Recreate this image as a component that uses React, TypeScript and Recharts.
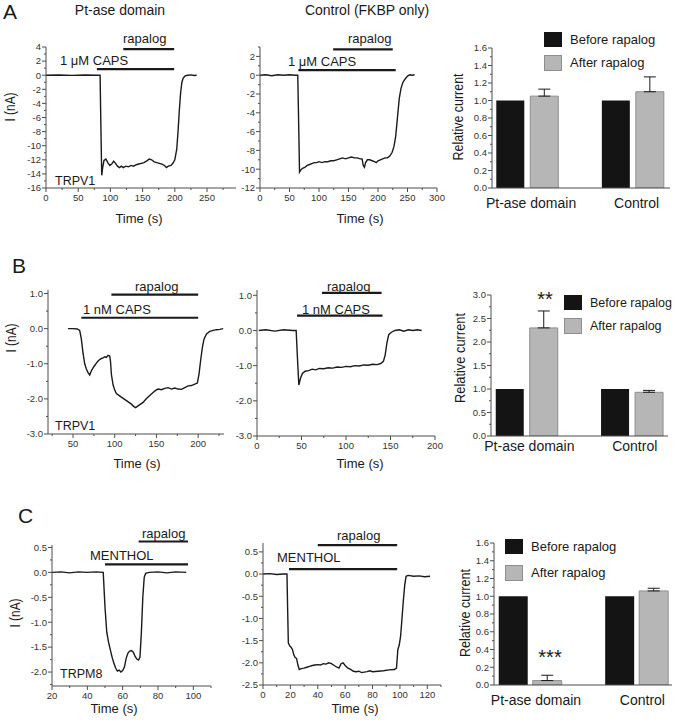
import React from 'react'
import { LineChart, Line, XAxis, YAxis, ReferenceLine, BarChart, Bar, ErrorBar } from 'recharts'

const FONT = '"Liberation Sans", Arial, Helvetica, sans-serif'
const INK = '#1a1a1a'
const AXIS = '#4d4d4d'
const TICK = '#333'

// ---- row A: TRPV1, 1 µM capsaicin
const a1Time = [0, 20, 40, 60, 80, 84, 85, 86.5, 88, 90, 93, 96, 99, 102, 105, 108, 111, 114, 117, 120, 124, 128, 132, 136, 140, 144, 148, 152, 156, 160, 164, 168, 172, 176, 180, 184, 187, 190, 194, 197, 200, 203, 205, 207, 209, 211, 213, 216, 220, 225, 230, 234]
const a1Current = [0, 0.03, -0.03, 0.02, 0, 0, -6, -14.2, -13.1, -12.1, -11.9, -12.4, -12.8, -12.6, -12.2, -12.5, -12.9, -13.1, -12.9, -13.1, -12.9, -13.0, -12.8, -12.9, -12.7, -12.6, -12.5, -12.4, -12.2, -11.9, -12.0, -12.3, -12.4, -12.5, -12.6, -12.8, -13.1, -12.9, -12.8, -12.5, -12.0, -10.5, -8, -5, -2.5, -1, -0.4, -0.1, 0, 0.05, -0.05, 0]
const a1Caps = [79, 199]
const a1Rapalog = [120, 199]

const a2Time = [0, 10, 20, 30, 40, 50, 60, 64, 65.5, 67, 69, 72, 76, 80, 84, 88, 92, 96, 100, 105, 110, 115, 120, 125, 130, 135, 140, 145, 150, 155, 160, 165, 170, 173, 175, 177, 179, 182, 186, 190, 194, 197, 200, 204, 208, 212, 216, 220, 224, 227, 230, 233, 236, 239, 242, 246, 250, 254, 258, 262]
const a2Current = [0, 0.05, -0.05, 0.05, 0, 0.05, 0, 0, -5, -10.3, -10.1, -9.9, -9.8, -9.6, -9.5, -9.4, -9.3, -9.3, -9.2, -9.3, -9.2, -9.2, -9.1, -9.1, -9.0, -8.9, -8.8, -8.9, -8.8, -8.7, -8.8, -8.8, -8.9, -8.9, -9.6, -9.8, -9.3, -9.0, -9.0, -9.1, -9.2, -9.3, -9.1, -9.0, -8.9, -8.8, -8.8, -8.6, -8.2, -7.6, -6.5, -4.5, -2.5, -1.4, -0.8, -0.4, -0.1, 0.05, 0, 0.05]
const a2Caps = [65, 230]
const a2Rapalog = [124, 225]

// ---- row B: TRPV1, 1 nM capsaicin
const b1Time = [44, 50, 55, 58, 60, 62, 64, 66, 68, 70, 72, 74, 76, 78, 80, 82, 84, 86, 88, 90, 92, 94, 95, 96, 98, 100, 102, 105, 108, 111, 114, 117, 120, 123, 125, 128, 131, 134, 137, 140, 143, 146, 149, 152, 156, 160, 164, 168, 172, 176, 180, 184, 188, 192, 196, 199, 201, 203, 205, 207, 210, 214, 218, 222, 226, 230]
const b1Current = [0, 0, -0.01, -0.05, -0.3, -0.7, -1.0, -1.15, -1.25, -1.32, -1.2, -1.12, -1.05, -0.98, -0.92, -0.88, -0.85, -0.83, -0.8, -0.82, -0.76, -0.78, -0.95, -1.3, -1.6, -1.75, -1.85, -1.9, -1.95, -2.0, -2.05, -2.1, -2.15, -2.22, -2.25, -2.2, -2.15, -2.1, -2.02, -1.95, -1.88, -1.82, -1.76, -1.72, -1.74, -1.7, -1.68, -1.72, -1.69, -1.72, -1.73, -1.68, -1.63, -1.62, -1.58, -1.55, -1.3, -0.9, -0.55, -0.3, -0.15, -0.08, -0.05, -0.03, -0.02, 0]
const b1Caps = [60, 200]
const b1Rapalog = [96, 200]

const b2Time = [2, 10, 20, 30, 40, 44, 45.5, 47, 49, 51, 54, 58, 62, 66, 70, 75, 80, 85, 90, 95, 100, 105, 110, 115, 120, 125, 130, 135, 139, 142, 144, 146, 148, 151, 155, 160, 165, 170, 175, 180, 185]
const b2Current = [0, 0.02, -0.02, 0.02, 0, 0, -0.8, -1.55, -1.35, -1.22, -1.16, -1.14, -1.1, -1.12, -1.08, -1.09, -1.06, -1.07, -1.04, -1.05, -1.02, -1.03, -1.0, -1.01, -0.98, -0.99, -0.96, -0.97, -0.94, -0.88, -0.7, -0.35, -0.12, -0.05, 0, 0.02, -0.02, 0.02, 0, 0.02, 0]
const b2Caps = [45, 141]
const b2Rapalog = [73, 140]

// ---- row C: TRPM8, menthol
const c1Time = [20, 25, 30, 35, 40, 45, 49, 50, 51, 52, 53, 54, 55, 56, 57, 58, 59, 60, 61, 62, 63, 64, 65, 66, 67, 68, 69, 69.8, 70.6, 71.4, 72.2, 73, 75, 80, 85, 90, 96]
const c1Current = [0, 0.01, -0.01, 0.01, 0, 0.01, 0, -0.7, -1.2, -1.4, -1.55, -1.7, -1.82, -1.92, -1.98, -1.96, -2.0, -1.97, -1.9, -1.72, -1.62, -1.58, -1.57, -1.6, -1.68, -1.74, -1.76, -1.7, -1.2, -0.5, -0.1, -0.02, 0, 0.01, -0.01, 0.01, 0]
const c1Menthol = [50, 97]
const c1Rapalog = [69, 97]

const c2Time = [0, 5, 10, 15, 17.5, 18, 18.5, 19.5, 20.5, 21.5, 22.5, 23.5, 24.5, 25.5, 26.5, 28, 30, 32, 34, 36, 38, 40, 42, 44, 46, 48, 50, 52, 54, 55.5, 57, 58.5, 60, 62, 64, 66, 68, 70, 72, 74, 76, 78, 80, 84, 88, 92, 96, 97.5, 98.5, 99.5, 100.5, 101.5, 102.5, 103.5, 104.5, 106, 110, 114, 118, 122]
const c2Current = [0, 0.01, -0.01, 0, 0, -0.8, -1.55, -1.62, -1.65, -1.7, -1.82, -1.88, -1.9, -2.05, -2.15, -2.13, -2.12, -2.1, -2.08, -2.06, -2.05, -2.04, -2.05, -2.02, -2.03, -2.0, -2.02, -2.06, -2.1, -2.12, -2.02, -2.0, -2.06, -2.12, -2.15, -2.19, -2.2, -2.19, -2.22, -2.21, -2.2, -2.18, -2.2, -2.19, -2.18, -2.16, -2.15, -2.12, -1.7, -1.6, -1.4, -1.0, -0.6, -0.25, -0.05, -0.03, -0.05, -0.04, -0.06, -0.05]
const c2Menthol = [19, 98]
const c2Rapalog = [40, 98]

// ---- summary bars (relative current)
const groups = ['Pt-ase domain', 'Control']
const aBefore = [1, 1]
const aAfter = [1.05, 1.1]
const aErr = [0.08, 0.17]
const bBefore = [1, 1]
const bAfter = [2.3, 0.93]
const bErr = [0.36, 0.04]
const cBefore = [1, 1]
const cAfter = [0.05, 1.06]
const cErr = [0.06, 0.03]

// axis ticks
const aTimeTicks = [0, 50, 100, 150, 200, 250]
const a2TimeTicks = [0, 50, 100, 150, 200, 250, 300]
const bTime1Ticks = [50, 100, 150, 200]
const bTime2Ticks = [0, 50, 100, 150, 200]
const cTime1Ticks = [20, 40, 60, 80, 100]
const cTime2Ticks = [0, 20, 40, 60, 80, 100, 120]
const a1CurrentTicks = [-16, -14, -12, -10, -8, -6, -4, -2, 0, 2, 4]
const a2CurrentTicks = [-12, -10, -8, -6, -4, -2, 0, 2]
const bCurrentTicks = [-3, -2, -1, 0, 1]
const c1CurrentTicks = [-2, -1.5, -1, -0.5, 0, 0.5]
const c2CurrentTicks = [-2.5, -2, -1.5, -1, -0.5, 0, 0.5]
const aRelTicks = [0, 0.2, 0.4, 0.6, 0.8, 1.0, 1.2, 1.4, 1.6]
const bRelTicks = [0, 0.5, 1.0, 1.5, 2.0, 2.5, 3.0]

const trace = (t: number[], v: number[]) => t.map((x, i) => ({ t: x, v: v[i] }))

function withMinors(majors: number[], step: number, domain: number[]) {
  const out = [...majors]
  const start = Math.ceil(domain[0] / step - 1e-9)
  const end = Math.floor(domain[1] / step + 1e-9)
  for (let k = start; k <= end; k++) {
    const v = Math.round(k * step * 1000) / 1000
    if (!out.some((m) => Math.abs(m - v) < 1e-6)) out.push(v)
  }
  return out.sort((a, b) => a - b)
}

const isMajor = (majors: number[], v: number) => majors.some((m) => Math.abs(m - v) < 1e-6)

const xTick = (majors: number[], digits: number) => (props: any) => {
  const { x, y, payload } = props
  const major = isMajor(majors, payload.value)
  return (
    <g>
      <line x1={x} x2={x} y1={y} y2={y + (major ? 4 : 2)} stroke={AXIS} />
      {major && (
        <text x={x} y={y + 13} textAnchor="middle" fontSize={9.5} fontFamily={FONT} fill={TICK}>
          {payload.value.toFixed(digits)}
        </text>
      )}
    </g>
  )
}

const yTick = (majors: number[], digits: number) => (props: any) => {
  const { x, y, payload } = props
  const major = isMajor(majors, payload.value)
  return (
    <g>
      <line x1={x} x2={x - (major ? 4 : 2)} y1={y} y2={y} stroke={AXIS} />
      {major && (
        <text x={x - 5} y={y} dy="0.35em" textAnchor="end" fontSize={9.5} fontFamily={FONT} fill={TICK}>
          {payload.value.toFixed(digits)}
        </text>
      )}
    </g>
  )
}

type Stim = { span: number[]; level: number }

type TraceProps = {
  data: { t: number; v: number }[]
  box: number[]
  xDomain: number[]
  xMajor: number[]
  xMinor: number
  yDomain: number[]
  yMajor: number[]
  yMinor: number
  yDigits: number
  stims: Stim[]
}

function TracePanel(p: TraceProps) {
  const YW = 44
  const MT = 12
  const MR = 8
  const XH = 22
  const [x0, y0, x1, y1] = p.box
  return (
    <div style={{ position: 'absolute', left: x0 - YW, top: y0 - MT }}>
      <LineChart
        width={x1 - x0 + YW + MR}
        height={y1 - y0 + MT + XH}
        data={p.data}
        margin={{ top: MT, right: MR, bottom: 0, left: 0 }}
      >
        <XAxis
          type="number"
          dataKey="t"
          domain={p.xDomain}
          ticks={withMinors(p.xMajor, p.xMinor, p.xDomain)}
          interval={0}
          height={XH}
          tickSize={0}
          tickMargin={0}
          tickLine={false}
          axisLine={{ stroke: AXIS }}
          tick={xTick(p.xMajor, 0)}
          allowDataOverflow
        />
        <YAxis
          type="number"
          domain={p.yDomain}
          ticks={withMinors(p.yMajor, p.yMinor, p.yDomain)}
          interval={0}
          width={YW}
          tickSize={0}
          tickMargin={0}
          tickLine={false}
          axisLine={{ stroke: AXIS }}
          tick={yTick(p.yMajor, p.yDigits)}
          allowDataOverflow
        />
        {p.stims.map((s, i) => (
          <ReferenceLine
            key={i}
            segment={[
              { x: s.span[0], y: s.level },
              { x: s.span[1], y: s.level },
            ]}
            stroke={INK}
            strokeWidth={2.2}
            ifOverflow="visible"
          />
        ))}
        <Line
          type="linear"
          dataKey="v"
          stroke={INK}
          strokeWidth={1.4}
          dot={false}
          isAnimationActive={false}
        />
      </LineChart>
    </div>
  )
}

type BarProps = {
  box: number[]
  before: number[]
  after: number[]
  err: number[]
  groupPos: number[]
  yDomain: number[]
  yMajor: number[]
  yMinor: number
  barSize: number
  barGap: number
  labelDy: number
  labelDx: number
}

function BarPanel(p: BarProps) {
  const YW = 40
  const MT = 10
  const MR = 4
  const XH = 26
  const [x0, y0, x1, y1] = p.box
  const data = groups.map((g, i) => ({
    pos: p.groupPos[i],
    before: p.before[i],
    after: p.after[i],
    range: [0, p.err[i]],
  }))
  const catTick = (props: any) => {
    const { x, y, index } = props
    return (
      <text x={x + p.labelDx} y={y + p.labelDy} textAnchor="middle" fontSize={14} fontFamily={FONT} fill={INK}>
        {groups[index]}
      </text>
    )
  }
  return (
    <div style={{ position: 'absolute', left: x0 - YW, top: y0 - MT }}>
      <BarChart
        width={x1 - x0 + YW + MR}
        height={y1 - y0 + MT + XH}
        data={data}
        barSize={p.barSize}
        barGap={p.barGap}
        margin={{ top: MT, right: MR, bottom: 0, left: 0 }}
      >
        <XAxis
          type="number"
          dataKey="pos"
          domain={[0, 1]}
          ticks={p.groupPos}
          interval={0}
          height={XH}
          tickSize={0}
          tickMargin={0}
          tickLine={false}
          axisLine={{ stroke: AXIS }}
          tick={catTick}
        />
        <YAxis
          type="number"
          domain={p.yDomain}
          ticks={withMinors(p.yMajor, p.yMinor, p.yDomain)}
          interval={0}
          width={YW}
          tickSize={0}
          tickMargin={0}
          tickLine={false}
          axisLine={{ stroke: AXIS }}
          tick={yTick(p.yMajor, 1)}
          allowDataOverflow
        />
        <Bar dataKey="before" fill="#141414" isAnimationActive={false} />
        <Bar dataKey="after" fill="#b6b6b6" stroke="#8e8e8e" isAnimationActive={false}>
          <ErrorBar dataKey="range" width={6} stroke={INK} strokeWidth={1} direction="y" />
        </Bar>
      </BarChart>
    </div>
  )
}

function Txt(props: {
  x: number
  y: number
  s?: number
  a?: 'start' | 'middle' | 'end'
  rot?: boolean
  len?: number
  w?: number
  children: React.ReactNode
}) {
  const { x, y, s = 13, a = 'start', rot, len, w } = props
  return (
    <text
      x={rot ? 0 : x}
      y={rot ? 0 : y}
      transform={rot ? `translate(${x},${y}) rotate(-90)` : undefined}
      textAnchor={rot ? 'middle' : a}
      fontSize={s}
      fontWeight={w}
      fontFamily={FONT}
      fill={INK}
      textLength={len}
      lengthAdjust={len ? 'spacingAndGlyphs' : undefined}
    >
      {props.children}
    </text>
  )
}

function Legend({ x, y1, y2, t1, t2, s = 13 }: { x: number; y1: number; y2: number; t1: number; t2: number; s?: number }) {
  return (
    <g>
      <rect x={x} y={y1} width={18} height={15} fill="#141414" />
      <rect x={x + 0.5} y={y2 + 0.5} width={17} height={15} fill="#b6b6b6" stroke="#8e8e8e" />
      <Txt x={x + 26} y={t1} s={s}>Before rapalog</Txt>
      <Txt x={x + 26} y={t2} s={s}>After rapalog</Txt>
    </g>
  )
}

export default function App() {
  return (
    <div
      style={{
        position: 'absolute',
        left: 0,
        top: 0,
        width: 675,
        height: 720,
        background: '#fff',
        fontFamily: FONT,
        overflow: 'hidden',
      }}
    >
      <TracePanel
        data={trace(a1Time, a1Current)}
        box={[46, 47, 236, 188]}
        xDomain={[0, 295]}
        xMajor={aTimeTicks}
        xMinor={25}
        yDomain={[-16, 4]}
        yMajor={a1CurrentTicks}
        yMinor={1}
        yDigits={0}
        stims={[
          { span: a1Caps, level: 0.85 },
          { span: a1Rapalog, level: 3.7 },
        ]}
      />
      <TracePanel
        data={trace(a2Time, a2Current)}
        box={[260, 47, 437, 188]}
        xDomain={[0, 300]}
        xMajor={a2TimeTicks}
        xMinor={25}
        yDomain={[-12, 3]}
        yMajor={a2CurrentTicks}
        yMinor={1}
        yDigits={0}
        stims={[
          { span: a2Caps, level: 0.55 },
          { span: a2Rapalog, level: 2.75 },
        ]}
      />
      <BarPanel
        box={[492, 48, 670, 188]}
        before={aBefore}
        after={aAfter}
        err={aErr}
        groupPos={[0.197, 0.79]}
        yDomain={[0, 1.6]}
        yMajor={aRelTicks}
        yMinor={0.1}
        barSize={28}
        barGap={6}
        labelDy={20}
        labelDx={4}
      />

      <TracePanel
        data={trace(b1Time, b1Current)}
        box={[48, 290, 224, 434]}
        xDomain={[20, 231]}
        xMajor={bTime1Ticks}
        xMinor={25}
        yDomain={[-3, 1.1]}
        yMajor={bCurrentTicks}
        yMinor={0.5}
        yDigits={1}
        stims={[
          { span: b1Caps, level: 0.31 },
          { span: b1Rapalog, level: 0.97 },
        ]}
      />
      <TracePanel
        data={trace(b2Time, b2Current)}
        box={[257, 290, 435, 436]}
        xDomain={[0, 200]}
        xMajor={bTime2Ticks}
        xMinor={25}
        yDomain={[-3, 1.15]}
        yMajor={bCurrentTicks}
        yMinor={0.5}
        yDigits={1}
        stims={[
          { span: b2Caps, level: 0.42 },
          { span: b2Rapalog, level: 1.07 },
        ]}
      />
      <BarPanel
        box={[491, 295, 668, 436]}
        before={bBefore}
        after={bAfter}
        err={bErr}
        groupPos={[0.2, 0.795]}
        yDomain={[0, 3]}
        yMajor={bRelTicks}
        yMinor={0.25}
        barSize={28}
        barGap={6}
        labelDy={15}
        labelDx={3}
      />

      <TracePanel
        data={trace(c1Time, c1Current)}
        box={[52, 545, 211, 686]}
        xDomain={[20, 110]}
        xMajor={cTime1Ticks}
        xMinor={10}
        yDomain={[-2.28, 0.55]}
        yMajor={c1CurrentTicks}
        yMinor={0.25}
        yDigits={1}
        stims={[
          { span: c1Menthol, level: 0.16 },
          { span: c1Rapalog, level: 0.62 },
        ]}
      />
      <TracePanel
        data={trace(c2Time, c2Current)}
        box={[263, 543, 441, 685]}
        xDomain={[0, 130]}
        xMajor={cTime2Ticks}
        xMinor={10}
        yDomain={[-2.5, 0.7]}
        yMajor={c2CurrentTicks}
        yMinor={0.25}
        yDigits={1}
        stims={[
          { span: c2Menthol, level: 0.11 },
          { span: c2Rapalog, level: 0.65 },
        ]}
      />
      <BarPanel
        box={[494, 543, 672, 685]}
        before={cBefore}
        after={cAfter}
        err={cErr}
        groupPos={[0.202, 0.8]}
        yDomain={[0, 1.6]}
        yMajor={aRelTicks}
        yMinor={0.1}
        barSize={29}
        barGap={5}
        labelDy={20}
        labelDx={6}
      />

      <svg
        width={675}
        height={720}
        style={{ position: 'absolute', left: 0, top: 0, pointerEvents: 'none' }}
      >
        {/* row A */}
        <Txt x={3} y={19} s={21}>A</Txt>
        <Txt x={120} y={15} s={14} a="middle">Pt-ase domain</Txt>
        <Txt x={367} y={15} s={14} a="middle">Control (FKBP only)</Txt>
        <Txt x={60} y={65}>1 μM CAPS</Txt>
        <Txt x={123} y={43}>rapalog</Txt>
        <Txt x={288} y={66}>1 μM CAPS</Txt>
        <Txt x={348} y={43}>rapalog</Txt>
        <Txt x={55} y={185} s={12.5}>TRPV1</Txt>
        <Txt x={15} y={107} s={14} rot len={29}>I (nA)</Txt>
        <Txt x={139} y={223} a="middle">Time (s)</Txt>
        <Txt x={360} y={223} a="middle">Time (s)</Txt>
        <Txt x={463} y={117} s={15} rot len={87}>Relative current</Txt>
        <Legend x={544} y1={32} y2={55} t1={44} t2={67} />

        {/* row B */}
        <Txt x={12} y={273} s={21}>B</Txt>
        <Txt x={135} y={291}>rapalog</Txt>
        <Txt x={83} y={314}>1 nM CAPS</Txt>
        <Txt x={327} y={291}>rapalog</Txt>
        <Txt x={302} y={314}>1 nM CAPS</Txt>
        <Txt x={55} y={430} s={12.5}>TRPV1</Txt>
        <Txt x={16} y={338} s={14} rot len={29}>I (nA)</Txt>
        <Txt x={137} y={468} a="middle">Time (s)</Txt>
        <Txt x={360} y={468} a="middle">Time (s)</Txt>
        <Txt x={465} y={358} s={15} rot len={90}>Relative current</Txt>
        <Legend x={564} y1={295} y2={318} t1={307} t2={330} s={12.5} />
        <Txt x={545} y={306} s={20} a="middle">**</Txt>

        {/* row C */}
        <Txt x={18} y={523} s={21}>C</Txt>
        <Txt x={142} y={538}>rapalog</Txt>
        <Txt x={90} y={560}>MENTHOL</Txt>
        <Txt x={337} y={540}>rapalog</Txt>
        <Txt x={277} y={562}>MENTHOL</Txt>
        <Txt x={60} y={678} s={12.5}>TRPM8</Txt>
        <Txt x={20} y={613} s={14} rot len={29}>I (nA)</Txt>
        <Txt x={114} y={713} a="middle">Time (s)</Txt>
        <Txt x={355} y={713} a="middle">Time (s)</Txt>
        <Txt x={470} y={613} s={15} rot len={88}>Relative current</Txt>
        <Legend x={505} y1={539} y2={565} t1={551} t2={577} />
        <Txt x={550} y={664} s={20} a="middle">***</Txt>
      </svg>
    </div>
  )
}
